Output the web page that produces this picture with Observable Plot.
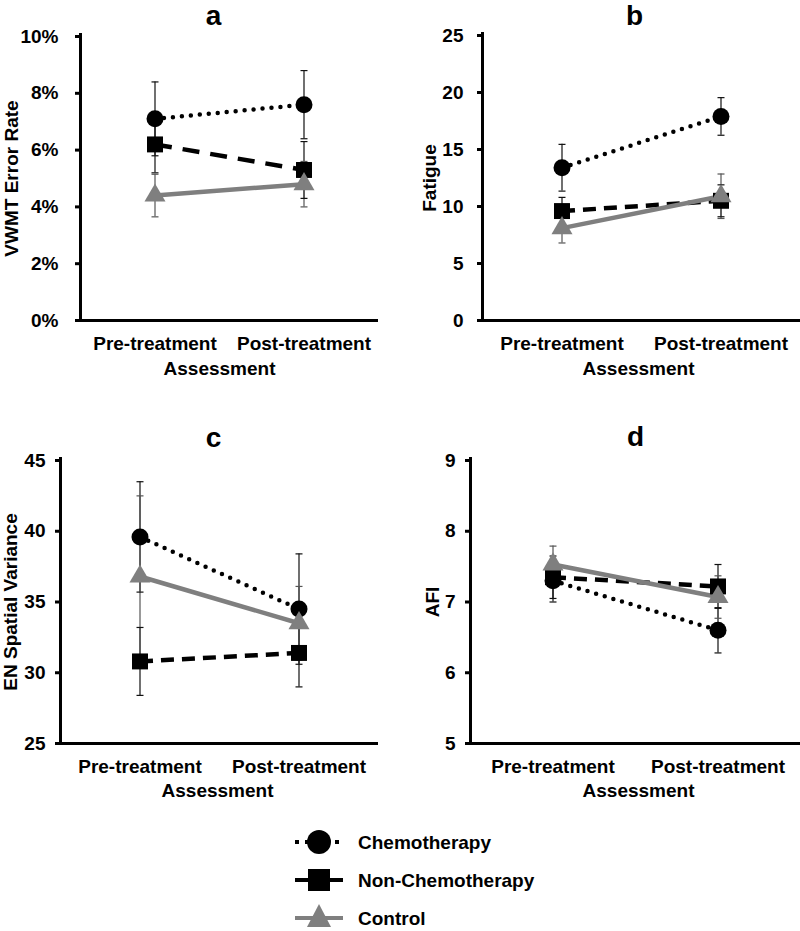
<!DOCTYPE html>
<html><head><meta charset="utf-8">
<script src="https://cdn.jsdelivr.net/npm/d3@7"></script>
<script src="https://cdn.jsdelivr.net/npm/@observablehq/plot@0.6"></script>
<style>
body{margin:0;background:#fff;font-family:"Liberation Sans",Arial,sans-serif;}
#wrap{position:relative;width:800px;height:931px;overflow:hidden;background:#fff;}
.panel{position:absolute;}
</style></head><body><div id="wrap"></div>
<script>
// ---------- data ----------
const assessments = ["Pre-treatment", "Post-treatment"];
const groups = ["Chemotherapy", "Non-Chemotherapy", "Control"];
const panelTitles = ["a", "b", "c", "d"];
const yLabels = ["VWMT Error Rate", "Fatigue", "EN Spatial Variance", "AFI"];
const xLabel = "Assessment";

const yTicksA = [0, 2, 4, 6, 8, 10];
const yTicksB = [0, 5, 10, 15, 20, 25];
const yTicksC = [25, 30, 35, 40, 45];
const yTicksD = [5, 6, 7, 8, 9];

// panel a: VWMT error rate (%), [pre, post]
const vwmtChemo = [7.1, 7.6];
const vwmtChemoErr = [1.3, 1.2];
const vwmtNonChemo = [6.2, 5.3];
const vwmtNonChemoErr = [1.0, 1.0];
const vwmtControl = [4.4, 4.8];
const vwmtControlErr = [0.75, 0.8];

// panel b: fatigue
const fatigueChemo = [13.4, 17.9];
const fatigueChemoErr = [2.05, 1.65];
const fatigueNonChemo = [9.6, 10.5];
const fatigueNonChemoErr = [1.2, 1.4];
const fatigueControl = [8.1, 10.9];
const fatigueControlErr = [1.3, 1.95];

// panel c: EN spatial variance
const enChemo = [39.6, 34.5];
const enChemoErr = [3.9, 3.9];
const enNonChemo = [30.8, 31.4];
const enNonChemoErr = [2.4, 2.4];
const enControl = [36.8, 33.5];
const enControlErr = [5.7, 2.6];

// panel d: AFI
const afiChemo = [7.3, 6.6];
const afiChemoErr = [0.3, 0.32];
const afiNonChemo = [7.35, 7.22];
const afiNonChemoErr = [0.3, 0.31];
const afiControl = [7.53, 7.07];
const afiControlErr = [0.26, 0.3];

// ---------- helpers ----------
function rowsFor(means, errs) {
  return groups.flatMap((g, gi) => assessments.map((a, i) => ({
    group: g, pos: i + 0.5, label: a, value: means[gi][i], err: errs[gi][i]
  })));
}

const capSymbol = {
  draw(ctx, size) { const w = Math.sqrt(size / Math.PI); ctx.moveTo(-w, 0); ctx.lineTo(w, 0); }
};

const FONT = "Liberation Sans, Arial, sans-serif";

function panel(cfg) {
  const rows = rowsFor(cfg.means, cfg.errs);
  const by = g => rows.filter(d => d.group === g);
  const errColor = d => d.group === "Control" ? "#555" : "#111";
  const [y0, y1] = [cfg.ticks[0], cfg.ticks[cfg.ticks.length - 1]];
  return Plot.plot({
    width: 400, height: cfg.height,
    marginLeft: cfg.ml, marginRight: cfg.mr, marginTop: cfg.mt, marginBottom: cfg.mb,
    style: {fontFamily: FONT, fontSize: "19px", fontWeight: "bold", background: "white", overflow: "visible"},
    x: {type: "linear", domain: [0, 2], axis: null},
    y: {domain: [y0, y1], axis: null},
    marks: [
      // error bars
      Plot.ruleX(rows, {x: "pos", y1: d => d.value - d.err, y2: d => d.value + d.err, stroke: errColor, strokeWidth: 1.2}),
      Plot.dot(rows, {x: "pos", y: d => d.value - d.err, symbol: capSymbol, r: 3.5, fill: "none", stroke: errColor, strokeWidth: 1.2}),
      Plot.dot(rows, {x: "pos", y: d => d.value + d.err, symbol: capSymbol, r: 3.5, fill: "none", stroke: errColor, strokeWidth: 1.2}),
      // lines
      Plot.line(by("Chemotherapy"), {x: "pos", y: "value", stroke: "black", strokeWidth: 4.5, strokeDasharray: "0 9", strokeLinecap: "round"}),
      Plot.line(by("Non-Chemotherapy"), {x: "pos", y: "value", stroke: "black", strokeWidth: 4.5, strokeDasharray: cfg.dash, strokeLinecap: "butt"}),
      Plot.line(by("Control"), {x: "pos", y: "value", stroke: "#7f7f7f", strokeWidth: 4.5}),
      // markers
      Plot.dot(by("Chemotherapy"), {x: "pos", y: "value", symbol: "circle", r: 8.5, fill: "black", stroke: "none"}),
      Plot.dot(by("Non-Chemotherapy"), {x: "pos", y: "value", symbol: "square", r: 9, fill: "black", stroke: "none"}),
      Plot.dot(by("Control"), {x: "pos", y: "value", symbol: "triangle", r: 7.8, fill: "#7f7f7f", stroke: "none"}),
      // axes
      Plot.ruleY([y0], {stroke: "black", strokeWidth: 3, insetLeft: -5}),
      Plot.ruleX([0], {stroke: "black", strokeWidth: 3, insetTop: -3}),
      Plot.ruleY(cfg.ticks, {y: d => d, x1: 0, x2: 0, insetLeft: -5, stroke: "black", strokeWidth: 3}),
      Plot.text(cfg.ticks, {x: 0, y: d => d, text: cfg.fmt, textAnchor: "end", lineAnchor: "middle", dx: -(5 + cfg.tp),
        fontSize: 19, fontWeight: "bold", fill: "black"}),
      Plot.text(assessments, {x: (d, i) => i + 0.5, y: y0, text: d => d, textAnchor: "middle", lineAnchor: "middle", dy: 23,
        fontSize: 19, fontWeight: "bold", fill: "black"}),
      // texts
      Plot.text([cfg.title], {text: d => d, frameAnchor: "top", lineAnchor: "middle", textAnchor: "middle", dy: cfg.titleDy, dx: cfg.titleDx,
        fontSize: 28, fontWeight: "bold", fill: "black"}),
      Plot.text([cfg.ylabel], {text: d => d, frameAnchor: "left", lineAnchor: "middle", textAnchor: "middle", rotate: -90, dx: cfg.ylDx,
        fontSize: 19, fontWeight: "bold", fill: "black"}),
      Plot.text([xLabel], {text: d => d, frameAnchor: "bottom", lineAnchor: "middle", textAnchor: "middle", dy: cfg.xlDy, dx: cfg.xlDx,
        fontSize: 19, fontWeight: "bold", fill: "black"})
    ]
  });
}

const wrap = document.getElementById("wrap");
function place(el, left, top) {
  const d = document.createElement("div");
  d.className = "panel"; d.style.left = left + "px"; d.style.top = top + "px";
  d.appendChild(el); wrap.appendChild(d);
}

place(panel({
  title: panelTitles[0], ylabel: yLabels[0], ticks: yTicksA, fmt: d => d + "%",
  means: [vwmtChemo, vwmtNonChemo, vwmtControl], errs: [vwmtChemoErr, vwmtNonChemoErr, vwmtControlErr],
  height: 410, ml: 80, mr: 22, mt: 36, mb: 90, tp: 17, dash: "17 11",
  titleDy: -20, titleDx: -16, ylDx: -69, xlDy: 48, xlDx: -10
}), 0, 0);

place(panel({
  title: panelTitles[1], ylabel: yLabels[1], ticks: yTicksB, fmt: d => d,
  means: [fatigueChemo, fatigueNonChemo, fatigueControl], errs: [fatigueChemoErr, fatigueNonChemoErr, fatigueControlErr],
  height: 410, ml: 82, mr: 0, mt: 35, mb: 90, tp: 14, dash: "13 8",
  titleDy: -19, titleDx: -7, ylDx: -53, xlDy: 48, xlDx: -3
}), 400, 0);

place(panel({
  title: panelTitles[2], ylabel: yLabels[2], ticks: yTicksC, fmt: d => d,
  means: [enChemo, enNonChemo, enControl], errs: [enChemoErr, enNonChemoErr, enControlErr],
  height: 400, ml: 60, mr: 22, mt: 50, mb: 67, tp: 10, dash: "13 8",
  titleDy: -22, titleDx: -6, ylDx: -50, xlDy: 47, xlDx: -2
}), 0, 410);

place(panel({
  title: panelTitles[3], ylabel: yLabels[3], ticks: yTicksD, fmt: d => d,
  means: [afiChemo, afiNonChemo, afiControl], errs: [afiChemoErr, afiNonChemoErr, afiControlErr],
  height: 400, ml: 70, mr: 0, mt: 50, mb: 67, tp: 10, dash: "13 8",
  titleDy: -23, titleDx: 0, ylDx: -38, xlDy: 47, xlDx: 3
}), 400, 410);

// ---------- legend ----------
const ns = "http://www.w3.org/2000/svg";
const leg = document.createElementNS(ns, "svg");
leg.setAttribute("width", 800); leg.setAttribute("height", 121);
leg.style.fontFamily = FONT;
const rowY = [32, 70, 108];
const legStyles = [
  {stroke: "black", dash: "4 6", marker: "circle", fill: "black"},
  {stroke: "black", dash: null, marker: "square", fill: "black"},
  {stroke: "#7f7f7f", dash: null, marker: "triangle", fill: "#7f7f7f"}
];
groups.forEach((g, i) => {
  const y = rowY[i], s = legStyles[i];
  const ln = document.createElementNS(ns, "line");
  ln.setAttribute("x1", 295); ln.setAttribute("x2", 343); ln.setAttribute("y1", y); ln.setAttribute("y2", y);
  ln.setAttribute("stroke", s.stroke); ln.setAttribute("stroke-width", 4);
  if (s.dash) ln.setAttribute("stroke-dasharray", s.dash);
  leg.appendChild(ln);
  let m;
  if (s.marker === "circle") {
    m = document.createElementNS(ns, "circle"); m.setAttribute("cx", 319); m.setAttribute("cy", y); m.setAttribute("r", 12);
  } else if (s.marker === "square") {
    m = document.createElementNS(ns, "rect"); m.setAttribute("x", 308); m.setAttribute("y", y - 11); m.setAttribute("width", 22); m.setAttribute("height", 22);
  } else {
    m = document.createElementNS(ns, "path"); m.setAttribute("d", `M319,${y - 14}L331,${y + 9}L307,${y + 9}Z`);
  }
  m.setAttribute("fill", s.fill); leg.appendChild(m);
  const t = document.createElementNS(ns, "text");
  t.setAttribute("x", 358); t.setAttribute("y", y); t.setAttribute("dy", "0.35em");
  t.setAttribute("font-size", 19); t.setAttribute("font-weight", "bold"); t.setAttribute("fill", "black");
  t.textContent = g; leg.appendChild(t);
});
const ld = document.createElement("div");
ld.className = "panel"; ld.style.left = "0px"; ld.style.top = "810px";
ld.appendChild(leg); wrap.appendChild(ld);
</script></body></html>
